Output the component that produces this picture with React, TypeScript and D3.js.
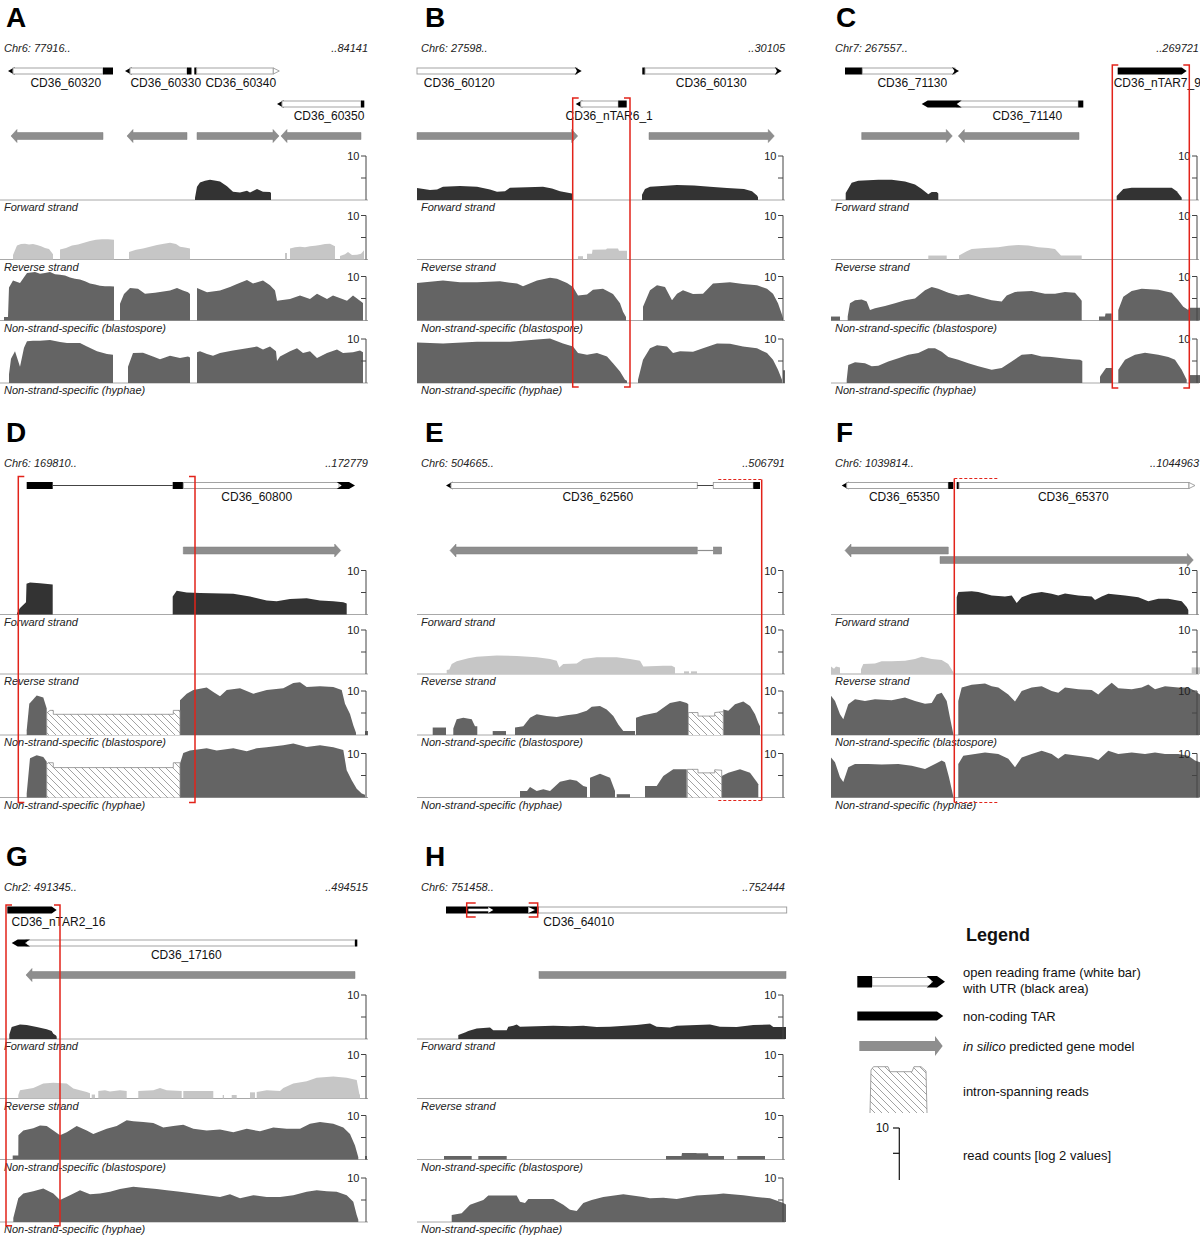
import React from 'react';
import * as d3 from 'd3';

// ---------- layout constants ----------
const FONT = "'Liberation Sans', Arial, Helvetica, sans-serif";
const COL_RANGE: [number, number][] = [[0, 366], [417, 783], [831, 1197]];
const ROW_OFFSET = [0, 414.5, 839];
const BIN_DOMAIN: [number, number] = [0, 366]; // window positions (bins) of each browser view
const TRACK_BASE = [200, 259.5, 320.5, 383];
const TRACK_SPAN = 44;
const TRACK_NAMES = ['Forward strand', 'Reverse strand', 'Non-strand-specific (blastospore)', 'Non-strand-specific (hyphae)'];
const TRACK_COLORS = ['#333333', '#c6c6c6', '#646464', '#646464'];
const GENE_ROW_Y = [71, 104];
const PRED_ROW_Y = [136, 145.5];
const AXIS_TICKS = [10, 5];
const LETTER_DX = [6, 8, 5];
const RED = '#e2231a';

// ---------- data: coverage segments, flat [bin, log2 value, ...] ----------
const A_fwd = [[195,0.5,197,3.0,200,4.0,205,4.4,210,4.6,216,4.4,220,4.2,227,3.1,233,1.9,240,1.7,247,2.1,250,1.7,257,2.5,263,1.9,270,1.8,271,1.6]];
const A_rev = [
  [13,1.0,17,3.2,21,3.5,25,3.6,29,3.4,33,3.5,37,3.3,41,3.0,45,2.6,49,2.4,53,1.2],
  [60,2.3,66,2.6,72,3.2,78,3.4,84,3.8,90,4.2,96,4.5,102,4.6,108,4.6,114,4.5],
  [129,1.7,136,2.2,143,2.5,150,2.9,157,3.3,164,3.6,170,3.8,176,3.5,180,2.9,185,2.7,190,2.5],
  [285,1.5,287,1.5],
  [290,2.5,295,2.8,300,2.9,305,2.8,310,3.0,315,3.1,320,3.3,325,3.5,330,3.6,335,3.0],
  [340,0.8,345,1.2,348,1.7,352,1.0,357,1.1,361,1.3,364,2.1]];
const A_bla = [
  [4,0.8,8,0.8,9,7.5,13,9.1,20,8.5,27,10.8,35,11.0,40,10.6,45,10.8,50,11.0,55,10.5,60,10.4,65,10.2,70,9.8,75,9.5,80,9.3,85,8.9,90,8.4,95,8.2,100,7.9,105,7.8,110,7.8,114,7.7],
  [120,3.8,124,6.0,130,7.4,138,7.2,145,6.1,155,6.3,160,6.5,170,6.8,177,7.4,183,6.8,188,6.4,190,6.0],
  [197,7.4,207,6.4,220,6.8,230,7.6,237,8.3,247,9.2,253,8.4,263,9.1,270,8.0,275,6.8,277,4.5,290,4.9,300,5.7,310,4.9,317,6.1,327,4.9,333,5.7,347,4.5,353,5.7,360,4.5,363,4.0]];
const A_hyp = [
  [9,2.0,11,5.5,15,7.2,20,3.7,24,8.0,27,9.5,33,9.6,40,9.6,50,9.8,60,9.3,67,9.1,80,9.1,87,8.3,97,7.2,107,6.6,113,6.4],
  [128,3.7,133,6.8,143,6.9,153,6.0,160,5.4,170,6.2,180,5.7,188,6.0,190,5.8],
  [197,7.0,200,7.2,207,6.6,213,6.2,220,6.8,233,7.4,247,7.9,257,8.3,263,7.6,270,8.3,276,7.2,277,5.0,280,6.0,290,7.2,297,7.9,303,6.8,310,7.2,317,5.7,327,6.8,337,7.6,343,6.8,353,7.0,360,7.4,363,7.0]];

const B_fwd = [
  [0,2.7,13,2.3,20,2.4,26,3.0,43,3.2,60,3.0,73,2.4,80,1.9,88,2.0,93,2.8,110,2.9,126,3.0,135,2.6,143,2.0,155,1.5,156,1.4],
  [225,1.2,228,2.5,233,3.0,245,3.2,260,3.4,277,3.3,293,3.0,310,2.7,327,2.5,335,2.0,340,1.0,341,0.6]];
const B_rev = [[161,0.75,166,0.75],[170,1.3,175,1.3,175.5,2.2,189,2.3,190,2.5,201,2.5,202,2.0,210,2.0]];
const B_bla = [
  [0,8.5,26,9.1,43,8.7,60,8.7,83,8.9,100,8.4,106,7.8,120,9.1,133,9.7,140,9.5,150,8.5,156,7.6,161,5.7,170,5.9,176,7.0,186,7.2,196,6.0,203,3.9,206,2.0,209,0.8],
  [226,3.1,233,6.9,240,8.0,248,7.6,255,4.6,260,6.1,266,6.9,276,6.0,286,6.1,296,8.4,313,8.7,326,8.3,340,8.0,350,7.2,356,6.1,361,3.9,365,1.3,366,0.5]];
const B_hyp = [
  [0,9.2,26,9.0,60,9.4,93,9.4,120,9.9,133,10.1,146,9.0,156,8.3,161,6.8,170,6.4,180,6.8,190,6.0,196,4.5,203,2.6,208,0.75,210,0.5],
  [221,0.75,226,5.3,233,7.9,240,8.6,250,8.3,256,6.8,263,7.2,276,7.1,286,7.9,300,9.0,313,8.9,326,8.3,340,7.9,350,6.8,356,5.3,361,3.0,365,0.75],
  [366,2.9,368,2.9]];

const C_fwd = [
  [14.7,1.6,20.7,3.9,27.3,4.4,47.3,4.6,60.7,4.6,74,4.2,84,3.5,90.7,2.5,97.3,1.3,100.7,1.8,105.7,1.8,107.3,1.5],
  [285.7,0.9,292.3,2.5,300.7,2.8,340.7,2.8,345.7,2.0,350.7,0.5]];
const C_rev = [
  [97.3,0.9,115.7,0.9],
  [128,0.9,135.7,1.9,140.7,2.4,154,2.6,167.3,2.8,177.3,3.1,187.3,3.3,197.3,3.2,207.3,2.8,217.3,2.6,224,2.4,230,0.9,250.7,0.9]];
const C_bla = [
  [0,0.9,9,0.9],
  [16.7,0.9,19,3.9,24,4.6,30.7,4.8,35.7,4.3,39,2.4,44,2.8,54,3.3,64,3.9,74,4.6,84,5.0,94,6.9,100.7,7.6,107.3,7.2,117.3,6.3,127.3,5.7,137.3,6.0,147.3,5.4,160.7,4.6,170.7,4.3,175.7,5.7,184,6.5,200.7,6.7,214,6.1,224,6.1,234,6.5,244,6.3,249,5.0,250.7,4.5],
  [268,0.9,274,0.9,274.5,1.6,280.7,1.6],
  [287.3,2.4,292.3,5.4,300.7,6.7,310.7,7.2,327.3,7.0,340.7,6.3,347.3,4.6,352.3,3.1,357.3,2.4,358,2.9,369,2.9]];
const C_hyp = [
  [15.7,0.75,17.3,4.1,24,4.7,34,4.5,40.7,3.8,47.3,3.9,57.3,4.9,67.3,5.6,77.3,6.4,87.3,6.8,97.3,7.9,104,7.9,110.7,7.1,117.3,5.9,127.3,5.3,137.3,4.5,147.3,3.8,160.7,3.0,170.7,3.4,180.7,4.9,190.7,6.4,200.7,6.6,210.7,6.0,220.7,5.9,230.7,5.6,240.7,5.4,249,5.3,251.3,5.0],
  [269,1.5,275,3.4,281,3.4],
  [287.3,3.0,294,5.3,304,6.4,314,6.9,327.3,6.4,337.3,5.9,344,5.3,350.7,3.0,355.7,0.75],
  [358,1.8,369,1.8]];

const D_fwd = [
  [17,0.3,20,1.5,26,2.8,26.5,7.0,30,7.3,40,7.1,52.7,6.8],
  [172.7,4.1,176.7,5.4,186.7,5.0,200,4.9,233.3,4.7,250,4.1,266.7,3.2,276.7,3.0,290,3.5,306.7,3.7,320,3.2,333.3,3.0,343.3,2.8,346.7,2.5]];
const D_rev: number[][] = [];
const D_bla = [
  [26.7,1.1,29.3,7.1,36.7,9.0,43.3,8.5,46.7,6.0],
  [180,7.9,186.7,9.4,193.3,10.2,206.7,10.8,213.3,9.8,220,8.8,226.7,10.2,240,10.6,253.3,9.4,266.7,10.2,283.3,10.6,293.3,11.8,300,12.0,306.7,10.9,320,11.1,333.3,10.9,341.7,10.2,345,7.1,350,4.8,353.3,2.2,356,0.5],
  [365,0.9,368,0.9]];
const D_bla_intron = [[46.7,5.0,50,5.6,53.3,5.6,53.3,4.7,173.3,4.7,173.3,5.6,180,5.6]];
const D_hyp = [
  [26.7,0.9,30,8.9,36.7,9.6,43.3,9.2,46.7,8.1],
  [180,7.7,183.3,10.1,190,10.7,206.7,11.2,216.7,10.7,233.3,11.2,246.7,10.5,256.7,11.2,266.7,11.4,283.3,11.9,293.3,12.3,306.7,11.5,320,11.9,333.3,11.4,343.3,10.8,346.7,6.2,351.7,3.9,356.7,2.0,361.7,0.9,365,0.6]];
const D_hyp_intron = [[46.7,7.5,48,7.9,53.3,7.9,53.3,6.8,173.3,6.8,173.3,7.9,180,7.9]];

const E_fwd: number[][] = [];
const E_rev = [
  [29.7,0.9,32.3,1.0,34.7,2.3,39.7,2.9,51.3,3.6,59.7,3.9,79.7,4.2,99.7,4.1,119.7,3.8,133,3.4,139.7,3.0,142.3,1.5,146.3,2.3,159.7,2.4,166.3,3.4,179.7,3.8,199.7,3.8,213,3.4,223,3.0,226.3,1.7,246.3,1.9,254.7,1.9,258,1.5],
  [267,0.6,272,0.6],[274,0.6,280,0.6]];
const E_bla = [
  [15.7,1.7,29,1.7],
  [36.3,1.5,39.7,3.6,46.3,3.9,54.7,3.6,58,2.0,60.3,2.0],
  [75.7,0.9,89,0.9],
  [98,1.7,106.3,2.0,113,3.9,119.7,4.7,129.7,4.3,139.7,4.1,149.7,4.5,159.7,4.8,169.7,5.5,174.7,6.4,183,6.6,189.7,5.8,196.3,4.3,201.3,2.4,206.3,0.9,218,0.9],
  [219,3.9,226.3,4.5,239.7,5.1,246.3,6.2,253,7.3,263,7.7,269.7,7.3,271.3,7.0],
  [306.3,5.8,311.3,5.5,318,7.0,326.3,7.6,333,6.6,338,4.7,341.3,2.8,343,2.0]];
const E_bla_intron = [[271.3,5.1,281,5.1,281,4.3,297.7,4.3,297.7,5.1,306.3,5.3]];
const E_hyp = [
  [103,1.5,110,1.5,113,2.4,119.7,1.5,126.3,1.9,133,1.5,143,3.6,153,4.1,159.7,3.8,166.3,2.6,170,2.4],
  [173,4.5,183,5.4,193,4.5,198,1.5],
  [199.7,0.75,213,0.75],
  [228,2.6,239.7,2.6,246.3,4.9,256.3,6.4,269.7,6.4],
  [304.7,4.9,311.3,5.6,323,6.4,333,5.6,339.7,3.6,341.3,3.0]];
const E_hyp_intron = [[270.3,6.4,281,6.4,281,5.6,297.7,5.6,297.7,6.3,304.7,6.2]];

const F_fwd = [[125.7,3.9,127.3,5.1,140.7,5.3,147.3,5.1,160.7,4.3,174,4.1,180.7,4.3,185.7,2.6,190.7,3.9,200.7,4.8,210.7,5.1,220.7,4.7,227.3,4.3,234,4.8,247.3,4.3,260.7,4.1,264,3.3,270.7,4.1,277.3,4.7,294,4.3,307.3,3.9,317.3,3.0,327.3,3.6,337.3,3.6,350.7,3.0,355.7,1.7,357.3,1.0]];
const F_rev = [[0,1.7,3,1.2,5,1.7,9,1.5],[30,1.1,32.3,2.3,44,2.4,50.7,2.9,60.7,2.9,74,3.0,84,3.4,90.7,3.9,100.7,3.4,110.7,3.2,117.3,2.3,122.3,0.4],[360.7,1.5,369,1.5]];
const F_bla = [
  [0,8.9,4,7.7,9,4.7,12.3,3.6,17.3,7.0,24,8.1,34,7.7,44,8.1,60.7,7.9,74,8.5,84,7.7,94,7.1,100.7,7.3,105.7,9.2,110.7,9.6,115.7,7.7,119,3.9,122.3,0.2],
  [127.3,7.7,130.7,10.8,140.7,11.4,154,11.7,160.7,11.1,167.3,10.8,177.3,9.2,184,7.6,190.7,10.0,200.7,10.8,210.7,11.1,220.7,10.0,227.3,9.6,234,10.8,247.3,10.4,260.7,10.2,267.3,9.2,274,10.6,280.7,11.9,287.3,10.6,300.7,10.4,310.7,10.8,317.3,11.5,324,10.4,334,11.1,347.3,10.8,357.3,10.8,364,10.0,369,9.2]];
const F_hyp = [
  [0,9.1,4,8.0,9,4.6,12.3,3.5,17.3,6.9,24,7.6,37.3,7.6,50.7,7.5,67.3,7.6,80.7,7.2,94,6.5,104,7.6,110.7,8.4,114,8.0,118,4.6,122.3,0.2],
  [127.3,7.6,132.3,9.5,144,9.9,154,10.2,167.3,9.9,177.3,8.8,184,6.9,190.7,9.1,200.7,9.9,210.7,10.6,220.7,9.9,227.3,8.8,234,9.9,247.3,9.5,260.7,9.1,267.3,8.5,277.3,10.6,287.3,9.9,300.7,10.2,314,9.9,324,10.2,334,9.9,347.3,9.9,357.3,9.5,364,8.4,369,8.0]];

const G_fwd = [[9.3,1.0,11.7,2.7,20,3.3,26.7,3.2,36.7,2.7,46.7,2.2,51.7,1.8,53.3,1.2,56,0.8,56.7,0.5]];
const G_rev = [
  [18.3,0.8,20,1.9,33.3,2.4,43.3,3.4,53.3,3.6,66.7,3.4,73.3,2.3,86.7,1.5,90,1.2],[91.7,0.9,95,0.9],
  [98.3,1.7,105,1.9,110,1.6,120,1.9,126.7,1.7],[138.3,1.7,153.3,1.9,160,2.4,166.7,1.9,181.7,1.7],
  [183.3,1.7,213.3,1.7],[222.7,0.8,224,0.8],[231.7,0.8,236.7,0.8],[250,1.4,255,1.4],
  [256.7,1.5,266.7,1.9,280,1.7,283.3,2.4,293.3,3.4,306.7,3.9,316.7,4.7,333.3,5.0,346.7,4.7,356.7,4.2,359.3,1.1,360,0.8]];
const G_bla = [
  [12.7,0.9,18.3,0.9,18.4,5.5,23.3,6.6,33.3,7.1,40,7.7,46.7,7.6,53.3,6.6,60,5.5,66.7,6.2,76.7,7.6,86.7,6.6,93.3,5.8,106.7,7.0,116.7,7.6,126.7,8.9,133.3,8.7,143.3,8.5,153.3,8.3,163.3,7.3,173.3,7.6,183.3,7.9,193.3,7.0,206.7,6.6,220,6.8,233.3,6.2,246.7,7.0,260,6.4,273.3,7.3,286.7,7.0,300,7.0,310,8.1,320,8.5,333.3,8.1,343.3,7.3,350,5.8,355,3.2,358.3,0.5],
  [365,0.8,367,0.8]];
const G_hyp = [[13.3,0.9,18.3,5.4,23.3,6.5,33.3,7.0,43.3,7.6,53.3,6.5,60,5.0,70,6.1,80,7.2,90,6.3,100,6.5,110,6.9,120,7.5,133.3,8.0,143.3,7.8,156.7,7.5,166.7,7.2,180,6.9,193.3,6.5,206.7,6.1,220,5.7,230,6.3,240,5.4,253.3,6.1,266.7,5.7,280,5.7,293.3,6.1,306.7,6.9,316.7,7.2,326.7,7.0,336.7,6.9,346.7,6.1,353.3,4.6,356.7,1.6,358.3,0.5]];

const H_fwd = [[41.3,0.9,48,1.5,51.3,1.8,59.7,2.4,73,2.6,76.3,2.0,89.7,2.0,91.3,2.8,96.3,3.0,99.7,3.3,103,2.8,136.3,3.0,153,2.9,166.3,3.0,179.7,2.7,193,2.8,219.7,3.2,233,3.5,239.7,2.8,253,2.6,259.7,3.0,279.7,3.2,293,3.3,303,2.8,319.7,2.7,336.3,3.2,353,3.3,356.3,2.7,366.3,2.7,369,2.7]];
const H_rev: number[][] = [];
const H_bla = [[27,0.8,54.7,0.8],[61.3,0.8,89.7,0.8],[249,0.8,264.5,0.8,265,1.5,279,1.5,280,1.4,291,1.4,291.5,0.8,307,0.8],[320.3,0.8,348,0.8]];
const H_hyp = [[34.7,1.6,44.7,2.0,53,3.9,66.3,5.0,71.3,6.0,99.7,6.0,103,4.6,108,4.3,111.3,5.2,136.3,5.2,146.3,3.9,153,2.8,159.7,2.5,166.3,4.3,174.7,5.0,186.3,5.7,206.3,6.3,226.3,5.7,233,5.4,246.3,5.5,259.7,5.2,279.7,6.0,299.7,6.3,306.3,6.5,326.3,6.1,339.7,5.7,353,5.4,363,4.6,366.3,4.3,369,4.0]];

// ---------- data: gene models (bins) ----------
type Part = [string, number, number?];
type Gene = { label: string; row: number; labelAt: number; parts: Part[] };
const A_genes: Gene[] = [
  { label: 'CD36_60320', row: 0, labelAt: 65.8, parts: [['tipL', 8], ['cds', 13, 103], ['utr', 103, 113]] },
  { label: 'CD36_60330', row: 0, labelAt: 165.8, parts: [['tipL', 125], ['cds', 130, 187], ['utr', 187, 191.5]] },
  { label: 'CD36_60340', row: 0, labelAt: 240.8, parts: [['utr', 194.3, 196.7], ['cds', 196.7, 273.3], ['openR', 279.3]] },
  { label: 'CD36_60350', row: 1, labelAt: 329, parts: [['tipL', 277], ['cds', 282, 361], ['utr', 361, 364.3]] },
];
const B_genes: Gene[] = [
  { label: 'CD36_60120', row: 0, labelAt: 42.2, parts: [['cds', 0, 160], ['tipR', 164.7]] },
  { label: 'CD36_60130', row: 0, labelAt: 294.2, parts: [['utr', 225.3, 228], ['cds', 228, 360], ['tipR', 364.7]] },
  { label: 'CD36_nTAR6_1', row: 1, labelAt: 192.2, parts: [['tipL', 158.7], ['cds', 163.7, 201.3], ['utr', 201.3, 209.7]] },
];
const C_genes: Gene[] = [
  { label: 'CD36_71130', row: 0, labelAt: 81.3, parts: [['utr', 14, 31.3], ['cds', 31.3, 124], ['tipR', 128]] },
  { label: 'CD36_nTAR7_9', row: 0, labelAt: 326.3, parts: [['tar', 286.7, 355.7]] },
  { label: 'CD36_71140', row: 1, labelAt: 196.3, parts: [['cds', 125.7, 247.3], ['utrArrowL', 90.7, 130.7], ['utr', 247.3, 252.3]] },
];
const D_genes: Gene[] = [
  { label: 'CD36_60800', row: 0, labelAt: 256.7, parts: [['utr', 26.7, 52.7], ['line', 52.7, 172.7], ['utr', 172.7, 183.3], ['cds', 183.3, 339], ['utrArrowR', 336.7, 355]] },
];
const E_genes: Gene[] = [
  { label: 'CD36_62560', row: 0, labelAt: 180.8, parts: [['tipL', 29], ['cds', 34, 280.3], ['line', 280.3, 296.3], ['cds', 296.3, 336.3], ['utr', 336.3, 343]] },
];
const F_genes: Gene[] = [
  { label: 'CD36_65350', row: 0, labelAt: 73.3, parts: [['tipL', 10.7], ['cds', 15.7, 117.3], ['utr', 117.3, 122.3]] },
  { label: 'CD36_65370', row: 0, labelAt: 242.3, parts: [['utr', 125.7, 128], ['cds', 128, 358], ['openR', 364]] },
];
const G_genes: Gene[] = [
  { label: 'CD36_nTAR2_16', row: 0, labelAt: 58.5, parts: [['tar', 7.3, 56.7]] },
  { label: 'CD36_17160', row: 1, labelAt: 186.3, parts: [['cds', 26, 355], ['utrArrowL', 11.7, 30], ['utr', 355, 357.3]] },
];
const H_genes: Gene[] = [
  { label: 'CD36_64010', row: 0, labelAt: 161.7, parts: [['cds', 121.3, 369.7], ['utr', 29, 121.3], ['warrow', 51.3, 76.3], ['whead', 111.3, 118]] },
];

// ---------- data: in silico predicted gene models ----------
type Pred = [string, number, number, number?];
const A_preds: Pred[] = [['L', 11, 103], ['L', 127, 187], ['R', 197, 279], ['L', 281, 361]];
const B_preds: Pred[] = [['R', 0, 160.7], ['R', 232, 357.3]];
const C_preds: Pred[] = [['R', 30.7, 121.3], ['L', 127.3, 248]];
const D_preds: Pred[] = [['R', 183.3, 340.7]];
const E_preds: Pred[] = [['L', 33, 280.3], ['line', 280.3, 296.3], ['bar', 296.3, 304.7]];
const F_preds: Pred[] = [['L', 14, 117.3], ['R', 109, 362.3, 1]];
const G_preds: Pred[] = [['L', 26, 355]];
const H_preds: Pred[] = [['bar', 122, 369]];

// ---------- red highlight marks: [type, from, to, top, bottom] ----------
type Mark = [string, number, number, number, number?];
const B_red: Mark[] = [['box', 155.7, 213, 98, 387]];
const C_red: Mark[] = [['box', 281.3, 358.3, 65, 388]];
const D_red: Mark[] = [['box', 18.3, 195, 62, 388]];
const E_red: Mark[] = [['vline', 344.7, 344.7, 65, 386], ['dash', 301.3, 344.7, 65], ['dash', 301.3, 344.7, 386]];
const F_red: Mark[] = [['vline', 123.3, 123.3, 64, 388], ['dash', 123.3, 168, 64], ['dash', 123.3, 168, 388]];
const G_red: Mark[] = [['box', 6, 60, 66, 386.7]];
const H_red: Mark[] = [['box', 49.7, 120.7, 64, 78]];

type PanelDef = {
  id: string; col: number; row: number; chr: string; end: string;
  genes: Gene[]; preds: Pred[]; cov: number[][][]; intron: number[][][]; red: Mark[];
};
const NONE: number[][] = [];
const panels: PanelDef[] = [
  { id: 'A', col: 0, row: 0, chr: 'Chr6: 77916..', end: '..84141', genes: A_genes, preds: A_preds, cov: [A_fwd, A_rev, A_bla, A_hyp], intron: [NONE, NONE, NONE, NONE], red: [] },
  { id: 'B', col: 1, row: 0, chr: 'Chr6: 27598..', end: '..30105', genes: B_genes, preds: B_preds, cov: [B_fwd, B_rev, B_bla, B_hyp], intron: [NONE, NONE, NONE, NONE], red: B_red },
  { id: 'C', col: 2, row: 0, chr: 'Chr7: 267557..', end: '..269721', genes: C_genes, preds: C_preds, cov: [C_fwd, C_rev, C_bla, C_hyp], intron: [NONE, NONE, NONE, NONE], red: C_red },
  { id: 'D', col: 0, row: 1, chr: 'Chr6: 169810..', end: '..172779', genes: D_genes, preds: D_preds, cov: [D_fwd, D_rev, D_bla, D_hyp], intron: [NONE, NONE, D_bla_intron, D_hyp_intron], red: D_red },
  { id: 'E', col: 1, row: 1, chr: 'Chr6: 504665..', end: '..506791', genes: E_genes, preds: E_preds, cov: [E_fwd, E_rev, E_bla, E_hyp], intron: [NONE, NONE, E_bla_intron, E_hyp_intron], red: E_red },
  { id: 'F', col: 2, row: 1, chr: 'Chr6: 1039814..', end: '..1044963', genes: F_genes, preds: F_preds, cov: [F_fwd, F_rev, F_bla, F_hyp], intron: [NONE, NONE, NONE, NONE], red: F_red },
  { id: 'G', col: 0, row: 2, chr: 'Chr2: 491345..', end: '..494515', genes: G_genes, preds: G_preds, cov: [G_fwd, G_rev, G_bla, G_hyp], intron: [NONE, NONE, NONE, NONE], red: G_red },
  { id: 'H', col: 1, row: 2, chr: 'Chr6: 751458..', end: '..752444', genes: H_genes, preds: H_preds, cov: [H_fwd, H_rev, H_bla, H_hyp], intron: [NONE, NONE, NONE, NONE], red: H_red },
];

const pairs = (flat: number[]): [number, number][] => {
  const out: [number, number][] = [];
  for (let i = 0; i < flat.length; i += 2) out.push([flat[i], flat[i + 1]]);
  return out;
};
const pts = (a: number[][]) => a.map((p) => p.join(',')).join(' ');

function GenePart({ part, x, y, k }: { part: Part; x: d3.ScaleLinear<number, number>; y: number; k: string }) {
  const [t, a, b] = part;
  const X = x(a);
  const B = b !== undefined ? x(b) : 0;
  switch (t) {
    case 'cds':
      return <rect key={k} x={X} y={y - 3} width={B - X} height={6} fill="#fff" stroke="#9a9a9a" strokeWidth={0.9} />;
    case 'utr':
      return <rect key={k} x={X} y={y - 3.5} width={B - X} height={7} fill="#000" />;
    case 'line':
      return <line key={k} x1={X} x2={B} y1={y} y2={y} stroke="#444" strokeWidth={1} />;
    case 'tipL':
      return <polygon key={k} points={pts([[X, y], [X + 7, y - 4], [X + 4.5, y], [X + 7, y + 4]])} fill="#000" />;
    case 'tipR':
      return <polygon key={k} points={pts([[X, y], [X - 7, y - 4], [X - 4.5, y], [X - 7, y + 4]])} fill="#000" />;
    case 'openR':
      return <polygon key={k} points={pts([[X - 6, y - 3], [X, y], [X - 6, y + 3]])} fill="#fff" stroke="#9a9a9a" strokeWidth={0.9} />;
    case 'tar':
      return <polygon key={k} points={pts([[X, y - 3.5], [B - 5, y - 3.5], [B, y], [B - 5, y + 3.5], [X, y + 3.5]])} fill="#000" />;
    case 'utrArrowL':
      return <polygon key={k} points={pts([[X, y], [X + 6, y - 3.5], [B, y - 3.5], [B - 5, y], [B, y + 3.5], [X + 6, y + 3.5]])} fill="#000" />;
    case 'utrArrowR':
      return <polygon key={k} points={pts([[X, y - 3.5], [B - 6, y - 3.5], [B, y], [B - 6, y + 3.5], [X, y + 3.5], [X + 5, y]])} fill="#000" />;
    case 'warrow':
      return (
        <g key={k}>
          <rect x={X} y={y - 1.3} width={B - X - 4} height={2.6} fill="#fff" />
          <polygon points={pts([[B - 5, y - 3], [B, y], [B - 5, y + 3]])} fill="#fff" />
        </g>
      );
    case 'whead':
      return <polygon key={k} points={pts([[X, y - 3], [B, y], [X, y + 3]])} fill="#fff" />;
    default:
      return null;
  }
}

function PredShape({ p, x, oy, k }: { p: Pred; x: d3.ScaleLinear<number, number>; oy: number; k: string }) {
  const [t, a, b, row] = p;
  const y = PRED_ROW_Y[row ?? 0] + oy;
  const A = x(a), B = x(b);
  const fill = '#8e8e8e';
  if (t === 'L')
    return <polygon key={k} points={pts([[A, y], [A + 6, y - 6.5], [A + 6, y - 3.5], [B, y - 3.5], [B, y + 3.5], [A + 6, y + 3.5], [A + 6, y + 6.5]])} fill={fill} stroke="#7d7d7d" strokeWidth={0.5} />;
  if (t === 'R')
    return <polygon key={k} points={pts([[B, y], [B - 6, y - 6.5], [B - 6, y - 3.5], [A, y - 3.5], [A, y + 3.5], [B - 6, y + 3.5], [B - 6, y + 6.5]])} fill={fill} stroke="#7d7d7d" strokeWidth={0.5} />;
  if (t === 'bar') return <rect key={k} x={A} y={y - 3.5} width={B - A} height={7} fill={fill} stroke="#7d7d7d" strokeWidth={0.5} />;
  return <line key={k} x1={A} x2={B} y1={y} y2={y} stroke={fill} strokeWidth={1.2} />;
}

function RedMark({ m, x, oy, k }: { m: Mark; x: d3.ScaleLinear<number, number>; oy: number; k: string }) {
  const [t, a, b, top, bottom] = m;
  const A = x(a), B = x(b);
  const y0 = top + oy;
  const y1 = (bottom ?? top) + oy;
  if (t === 'box') {
    const tk = bottom !== undefined && bottom - top < 30 ? 9 : 6;
    return (
      <g key={k} fill="none" stroke={RED} strokeWidth={1.5}>
        <path d={`M${A + tk},${y0}H${A}V${y1}H${A + tk}`} />
        <path d={`M${B - tk},${y0}H${B}V${y1}H${B - tk}`} />
      </g>
    );
  }
  if (t === 'vline') return <line key={k} x1={A} x2={A} y1={y0} y2={y1} stroke={RED} strokeWidth={1.5} />;
  return <line key={k} x1={A} x2={B} y1={y0} y2={y0} stroke={RED} strokeWidth={1.2} strokeDasharray="3,2" />;
}

function Panel({ p }: { p: PanelDef }) {
  const [c0, c1] = COL_RANGE[p.col];
  const oy = ROW_OFFSET[p.row];
  const x = d3.scaleLinear().domain(BIN_DOMAIN).range([c0, c1]);
  return (
    <g>
      <text x={c0 + LETTER_DX[p.col]} y={oy + 27} fontSize={28} fontWeight="bold" fill="#000">{p.id}</text>
      <text x={c0 + 4} y={oy + 52} fontSize={11} fontStyle="italic" fill="#222">{p.chr}</text>
      <text x={c1 + 2} y={oy + 52} fontSize={11} fontStyle="italic" fill="#222" textAnchor="end">{p.end}</text>
      {p.genes.map((g, gi) => {
        const y = GENE_ROW_Y[g.row] + oy;
        return (
          <g key={'g' + gi}>
            {g.parts.map((pt, pi) => GenePart({ part: pt, x, y, k: `p${gi}-${pi}` }))}
            <text x={x(g.labelAt)} y={y + 15.5} fontSize={12} textAnchor="middle" fill="#111">{g.label}</text>
          </g>
        );
      })}
      {p.preds.map((pr, i) => PredShape({ p: pr, x, oy, k: 'pr' + i }))}
      {TRACK_BASE.map((b, ti) => {
        const base = b + oy;
        const y = d3.scaleLinear().domain([0, 10]).range([base, base - TRACK_SPAN]);
        const area = d3.area<[number, number]>().x((d) => x(d[0])).y0(base).y1((d) => y(d[1]));
        const outline = d3.line<[number, number]>().x((d) => x(d[0])).y((d) => y(d[1]));
        return (
          <g key={'t' + ti}>
            <line x1={c0} x2={c1 + 2} y1={base} y2={base} stroke="#a8a8a8" strokeWidth={1} />
            {p.cov[ti].map((s, si) => {
              const ps = pairs(s);
              const full: [number, number][] = [[ps[0][0], 0], ...ps, [ps[ps.length - 1][0], 0]];
              return <path key={si} d={area(full) || ''} fill={TRACK_COLORS[ti]} />;
            })}
            {p.intron[ti].map((s, si) => {
              const ps = pairs(s);
              const full: [number, number][] = [[ps[0][0], 0], ...ps, [ps[ps.length - 1][0], 0]];
              return (
                <g key={'h' + si}>
                  <path d={area(full) || ''} fill="url(#hatch)" />
                  <path d={outline(full) || ''} fill="none" stroke="#8a8a8a" strokeWidth={0.8} />
                </g>
              );
            })}
            <line x1={c1} x2={c1} y1={y(10)} y2={base} stroke="#444" strokeWidth={1} />
            {AXIS_TICKS.map((t) => (
              <line key={t} x1={c1 - 5} x2={c1} y1={y(t)} y2={y(t)} stroke="#444" strokeWidth={1} />
            ))}
            <text x={c1 - 6.5} y={y(10) + 4} fontSize={11} textAnchor="end" fill="#222">10</text>
            <text x={c0 + 4} y={base + 11} fontSize={11} fontStyle="italic" fill="#222">{TRACK_NAMES[ti]}</text>
          </g>
        );
      })}
      {p.red.map((m, i) => RedMark({ m, x, oy, k: 'r' + i }))}
    </g>
  );
}

function Legend() {
  const tx = 963;
  return (
    <g fontSize={13} fill="#111">
      <text x={966} y={940.5} fontSize={18} fontWeight="bold">Legend</text>
      {/* ORF with UTR */}
      <rect x={872} y={977.5} width={60} height={8.5} fill="#fff" stroke="#9a9a9a" strokeWidth={1} />
      <rect x={857.3} y={976} width={14.7} height={11.5} fill="#000" />
      <polygon points={pts([[926.7, 976], [937, 976], [945, 981.7], [937, 987.5], [926.7, 987.5], [933, 981.7]])} fill="#000" />
      <text x={tx} y={976.5}>open reading frame (white bar)</text>
      <text x={tx} y={993}>with UTR (black area)</text>
      {/* non-coding TAR */}
      <polygon points={pts([[857.3, 1011.5], [937, 1011.5], [943.3, 1016], [937, 1020.5], [857.3, 1020.5]])} fill="#000" />
      <text x={tx} y={1020.5}>non-coding TAR</text>
      {/* predicted */}
      <polygon points={pts([[859.3, 1041], [935, 1041], [935, 1036], [942.7, 1046], [935, 1056], [935, 1051], [859.3, 1051]])} fill="#8e8e8e" />
      <text x={tx} y={1050.5}><tspan fontStyle="italic">in silico</tspan><tspan> predicted gene model</tspan></text>
      {/* intron spanning */}
      <path d="M870,1113 L871,1070 L873.5,1066.7 L888,1066.7 L890,1071.7 L912,1071.7 L914,1066.7 L921,1066.7 L926,1071 L927,1113 Z" fill="url(#hatch)" />
      <path d="M870,1113 L871,1070 L873.5,1066.7 L888,1066.7 L890,1071.7 L912,1071.7 L914,1066.7 L921,1066.7 L926,1071 L927,1113" fill="none" stroke="#8a8a8a" strokeWidth={0.8} />
      <text x={tx} y={1096}>intron-spanning reads</text>
      {/* axis */}
      <text x={889} y={1132} fontSize={12} textAnchor="end">10</text>
      <line x1={899.3} x2={899.3} y1={1128} y2={1180} stroke="#111" strokeWidth={1.2} />
      <line x1={893} x2={899.3} y1={1128} y2={1128} stroke="#111" strokeWidth={1.2} />
      <line x1={893} x2={899.3} y1={1153.3} y2={1153.3} stroke="#111" strokeWidth={1.2} />
      <text x={tx} y={1160}>read counts [log 2 values]</text>
    </g>
  );
}

export default function App() {
  return (
    <svg width={1200} height={1237} viewBox="0 0 1200 1237" style={{ position: 'absolute', left: 0, top: 0, background: '#fff' }} fontFamily={FONT}>
      <defs>
        <pattern id="hatch" patternUnits="userSpaceOnUse" width={7} height={7}>
          <rect width={7} height={7} fill="#fff" />
          <path d="M0,0 L7,7 M-1,6 L1,8 M6,-1 L8,1" stroke="#8a8a8a" strokeWidth={0.8} />
        </pattern>
      </defs>
      <rect width={1200} height={1237} fill="#fff" />
      {panels.map((p) => <Panel key={p.id} p={p} />)}
      <Legend />
    </svg>
  );
}
